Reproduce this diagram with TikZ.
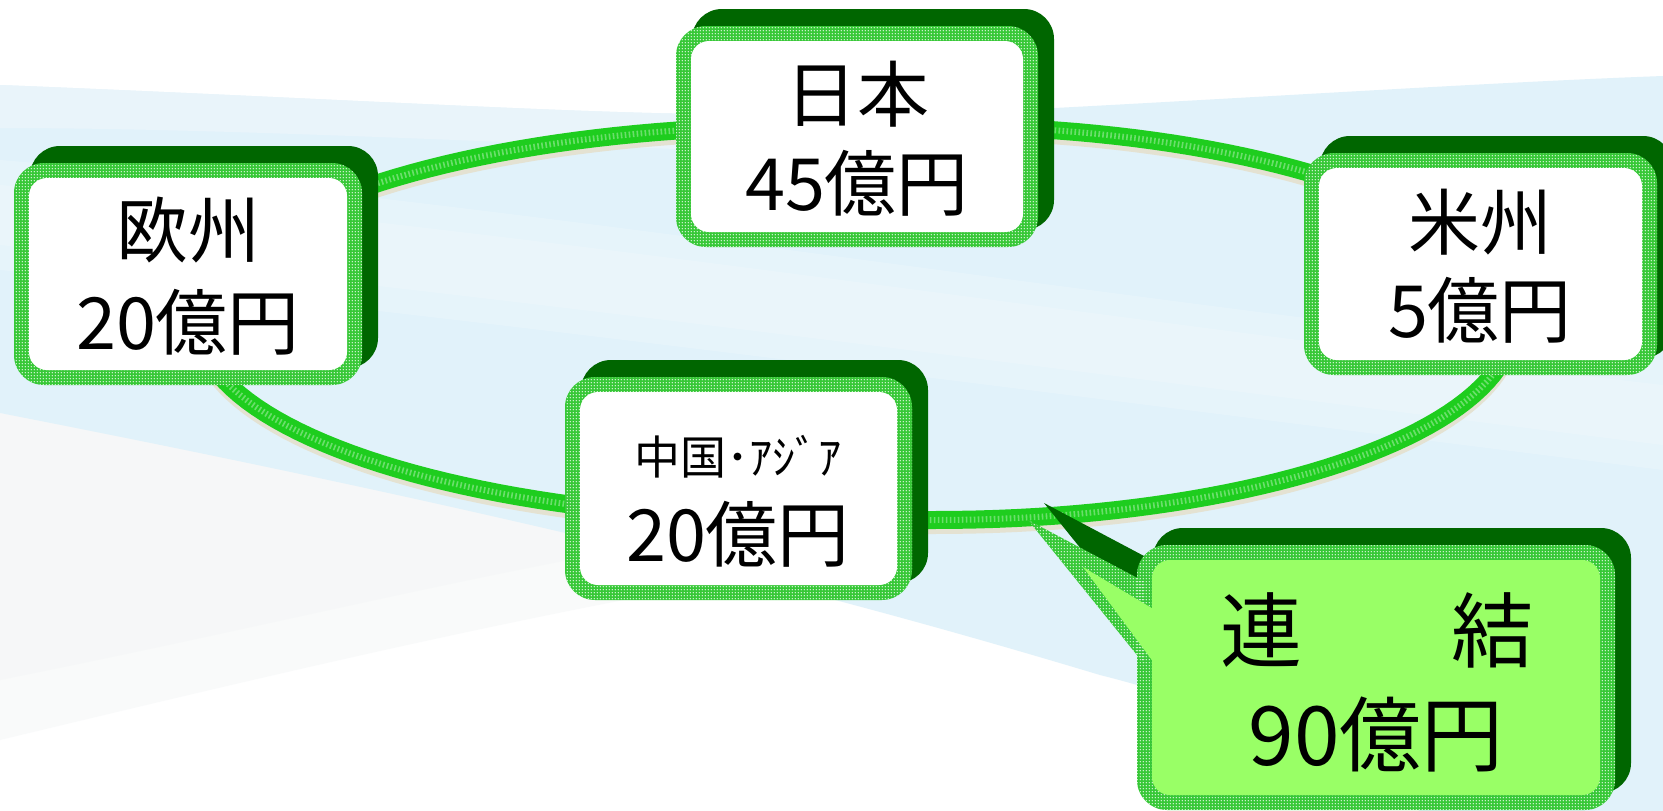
\documentclass[tikz,border=0pt]{standalone}
\usepackage{fontspec}
\newfontfamily\jp{Noto Sans CJK JP}
\usetikzlibrary{patterns}
\definecolor{shadowgreen}{RGB}{0,102,0}
\definecolor{bordergreen}{RGB}{55,200,55}
\definecolor{calloutfill}{RGB}{153,255,102}
\definecolor{skyblue}{RGB}{225,242,250}
\definecolor{paleblue}{RGB}{236,245,250}
\definecolor{palegray}{RGB}{244,246,247}
\definecolor{ringshadow}{RGB}{228,226,210}
\definecolor{ringgreen}{RGB}{30,205,30}
\pgfdeclarepatternformonly{wdots}{\pgfpointorigin}{\pgfqpoint{3.2pt}{3.2pt}}{\pgfqpoint{3.2pt}{3.2pt}}{\pgfpathcircle{\pgfqpoint{1.6pt}{1.6pt}}{0.8pt}\pgfusepath{fill}}
\newcommand\greenbox[5]{%
  \fill[shadowgreen, rounded corners=30pt, shift={(16,-17)}] (#1,#2) rectangle (#3,#4);
  \fill[bordergreen, rounded corners=30pt] (#1,#2) rectangle (#3,#4);
  \fill[pattern=wdots, pattern color=white, rounded corners=30pt] (#1,#2) rectangle (#3,#4);
  \fill[#5, rounded corners=18pt] (#1+15,#2+15) rectangle (#3-15,#4-15);
}
\newcommand\ringpath{plot[domain=90:270, samples=90, variable=\t] ({806+608*cos(\t)},{323-197*sin(\t)}) -- (935,520) -- plot[domain=-90:90, samples=90, variable=\t] ({935+578*cos(\t)},{323-197*sin(\t)}) -- cycle}
\begin{document}
\begin{tikzpicture}[x=1pt,y=-1pt,
  txt/.style={inner sep=0pt, text=black, font=\jp\fontsize{72}{86}\selectfont},
  smalltxt/.style={inner sep=0pt, text=black, font=\jp\fontsize{46}{50}\selectfont},
  bigtxt/.style={inner sep=0pt, text=black, font=\jp\fontsize{82}{96}\selectfont}]
\useasboundingbox (0,0) rectangle (1663,811);
\fill[white] (0,0) rectangle (1663,811);
% background swooshes
\fill[palegray, opacity=.5] (0,413) .. controls (250,455) and (500,500) .. (760,575)
  .. controls (500,620) and (250,680) .. (0,740) -- cycle;
\fill[palegray, opacity=.6] (0,413) .. controls (250,455) and (500,500) .. (650,545)
  .. controls (450,580) and (250,630) .. (0,680) -- cycle;
\fill[skyblue] (0,85) .. controls (300,97) and (550,112) .. (700,114)
  .. controls (850,115) and (1000,110) .. (1055,108)
  .. controls (1300,95) and (1500,82) .. (1663,76) -- (1663,811) -- (1420,811)
  .. controls (1300,740) and (1200,700) .. (1100,675)
  .. controls (900,615) and (600,530) .. (0,413) -- cycle;
\fill[paleblue, opacity=.8] (0,85) .. controls (300,97) and (550,112) .. (700,114)
  -- (700,150) .. controls (450,140) and (200,128) .. (0,128) -- cycle;
\fill[white, opacity=.18] (0,160) .. controls (500,200) and (1100,300) .. (1663,360)
  -- (1663,470) .. controls (1100,400) and (500,320) .. (0,270) -- cycle;
\fill[white, opacity=.18] (0,185) .. controls (500,225) and (1100,320) .. (1663,385)
  -- (1663,445) .. controls (1100,375) and (500,295) .. (0,245) -- cycle;
% ring
\draw[ringshadow, line width=16pt, yshift=-6pt] \ringpath;
\draw[ringgreen, line width=18pt] \ringpath;
\draw[white, line width=6pt, dash pattern=on 1.6pt off 2.4pt, opacity=.35] \ringpath;
% region boxes
\greenbox{676}{26}{1038}{247}{white}
\greenbox{14}{163}{362}{385}{white}
\greenbox{1304}{153}{1657}{375}{white}
\greenbox{565}{377}{912}{600}{white}
% callout
\begin{scope}[shift={(16,-17)}]
  \fill[shadowgreen, rounded corners=30pt] (1137,545) rectangle (1615,810);
  \fill[shadowgreen] (1028,520) -- (1145,582) -- (1145,665) -- cycle;
\end{scope}
\fill[bordergreen, rounded corners=30pt] (1137,545) rectangle (1615,810);
\fill[bordergreen] (1028,520) -- (1145,582) -- (1145,665) -- cycle;
\fill[pattern=wdots, pattern color=white, rounded corners=30pt] (1137,545) rectangle (1615,810);
\fill[pattern=wdots, pattern color=white] (1028,520) -- (1145,582) -- (1145,665) -- cycle;
\fill[calloutfill, rounded corners=18pt] (1152,560) rectangle (1600,795);
\fill[calloutfill] (1083,567) -- (1160,613) -- (1160,671) -- cycle;
% texts
\node[txt] (jp1) at (857,94) {日本};
\node[txt] (jp2) at (857,183) {45億円};
\node[txt] (eu1) at (188,230) {欧州};
\node[txt] (eu2) at (188,322) {20億円};
\node[txt] (us1) at (1480,222) {米州};
\node[txt] (us2) at (1480,310) {5億円};
\node[smalltxt] (cn1) at (738,457) {中国･ｱｼﾞｱ};
\node[txt] (cn2) at (738,534) {20億円};
\node[bigtxt] (tot1) at (1377,630) {連\hspace{150pt}結};
\node[bigtxt] (tot2) at (1376,734) {90億円};
\end{tikzpicture}
\end{document}
